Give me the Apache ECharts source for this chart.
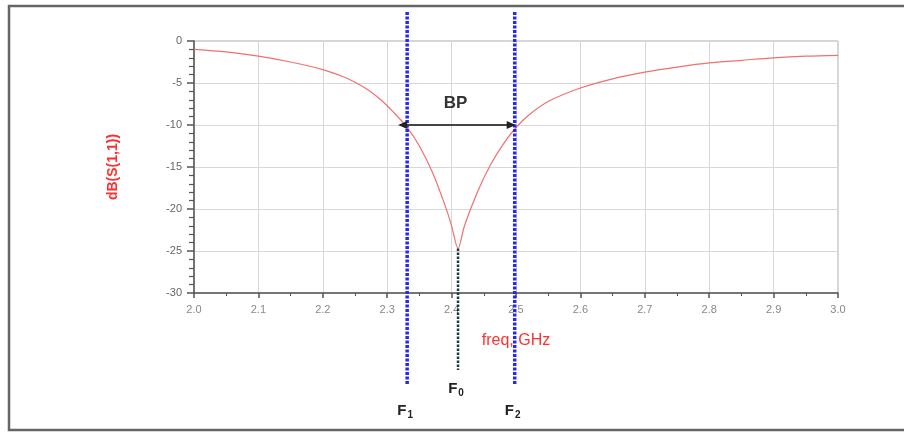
<!DOCTYPE html>
<html><head><meta charset="utf-8">
<script src="https://cdn.jsdelivr.net/npm/echarts@6/dist/echarts.min.js"></script>
<style>html,body{margin:0;padding:0;background:#fff}#c{width:904px;height:432px}</style>
</head><body><div id="c"></div>
<script>
// Frequency (GHz) and dB(S(1,1))
const freq = [2.00, 2.05, 2.10, 2.15, 2.20, 2.23, 2.25, 2.27, 2.29, 2.31, 2.33, 2.35, 2.37, 2.39, 2.40, 2.41, 2.42, 2.44, 2.46, 2.48, 2.50, 2.52, 2.55, 2.60, 2.65, 2.70, 2.75, 2.80, 2.85, 2.90, 2.95, 3.00];
const s11  = [-1.0, -1.3, -1.8, -2.5, -3.4, -4.2, -4.9, -5.8, -7.0, -8.5, -10.2, -12.5, -15.6, -19.6, -22.0, -24.7, -22.0, -18.0, -14.8, -12.3, -10.3, -8.8, -7.2, -5.6, -4.5, -3.7, -3.1, -2.6, -2.3, -2.0, -1.8, -1.7];
const xTicks = ['2.0','2.1','2.2','2.3','2.4','2.5','2.6','2.7','2.8','2.9','3.0'];
const yTicks = [0, -5, -10, -15, -20, -25, -30];
// Markers
const markerFreq = {F1: 2.331, F0: 2.41, F2: 2.498};
const markerLevel = -10;
const minLevel = -24.7;

const chart = echarts.init(document.getElementById('c'));
const font = 'Liberation Sans, Arial, sans-serif';
chart.setOption({
  animation: false,
  grid: {left: 194, top: 41, right: 66, bottom: 139, show: true, borderColor: '#aaa', borderWidth: 1, backgroundColor: 'transparent'},
  xAxis: {
    type: 'value', min: 2.0, max: 3.0, interval: 0.1,
    name: 'freq, GHz', nameLocation: 'middle', nameGap: 40,
    nameTextStyle: {color: '#ff3030', fontSize: 16, fontFamily: font},
    axisLine: {show: true, onZero: false, lineStyle: {color: '#555', width: 1.5}},
    axisTick: {show: true, length: 5, lineStyle: {color: '#555', width: 1.5}},
    minorTick: {show: true, splitNumber: 2, length: 3, lineStyle: {color: '#555'}},
    axisLabel: {color: '#888', fontSize: 11, fontFamily: font, margin: 11,
      formatter: v => xTicks[Math.round((v - 2.0) * 10)]},
    splitLine: {show: true, lineStyle: {color: '#d8d8d8'}}
  },
  yAxis: {
    type: 'value', min: -30, max: 0, interval: 5,
    name: 'dB(S(1,1))', nameLocation: 'middle', nameGap: 74, nameRotate: 90,
    nameTextStyle: {color: '#ff3030', fontSize: 14, fontWeight: 'bold', fontFamily: font},
    axisLine: {show: true, onZero: false, lineStyle: {color: '#555', width: 1.5}},
    axisTick: {show: true, length: 7, lineStyle: {color: '#555', width: 1.5}},
    minorTick: {show: true, splitNumber: 5, length: 5, lineStyle: {color: '#555', width: 1.2}},
    axisLabel: {color: '#666', fontSize: 11, fontFamily: font, margin: 12,
      formatter: v => String(yTicks[yTicks.indexOf(v)])},
    splitLine: {show: true, lineStyle: {color: '#d8d8d8'}}
  },
  series: [{
    type: 'line', showSymbol: false, smooth: 0.3,
    data: freq.map((f, i) => [f, s11[i]]),
    lineStyle: {color: '#f07070', width: 1.2}
  }]
});

const px = (x, y) => chart.convertToPixel({gridIndex: 0}, [x, y]);
const g = [];
// outer frame
g.push({type: 'rect', shape: {x: 9, y: 6, width: 920, height: 424}, style: {fill: 'none', stroke: '#666', lineWidth: 2.5}, z: 50});
// blue dotted marker lines
['F1', 'F2'].forEach(k => {
  const x = px(markerFreq[k], 0)[0];
  g.push({type: 'line', shape: {x1: x, y1: 12, x2: x, y2: 384},
    style: {stroke: '#2828ee', lineWidth: 3.5, lineDash: [3, 1.5]}, z: 20});
});
// F0 dashed line from minimum down
const p0 = px(markerFreq.F0, minLevel);
g.push({type: 'line', shape: {x1: p0[0], y1: p0[1], x2: p0[0], y2: 370},
  style: {stroke: '#1e3a44', lineWidth: 2.5, lineDash: [2.5, 1.5]}, z: 20});
// BP double arrow
const a = px(markerFreq.F1, markerLevel), b = px(markerFreq.F2, markerLevel);
const ax1 = a[0] - 7, ax2 = b[0];
g.push({type: 'line', shape: {x1: ax1, y1: a[1], x2: ax2, y2: a[1]}, style: {stroke: '#444', lineWidth: 2}, z: 21});
g.push({type: 'polygon', shape: {points: [[ax1 - 2, a[1]], [ax1 + 7, a[1] - 4], [ax1 + 7, a[1] + 4]]}, style: {fill: '#222'}, z: 22});
g.push({type: 'polygon', shape: {points: [[ax2 + 1, a[1]], [ax2 - 8, a[1] - 4], [ax2 - 8, a[1] + 4]]}, style: {fill: '#222'}, z: 22});
g.push({type: 'text', x: (ax1 + ax2) / 2 - 2, y: a[1] - 22, style: {text: 'BP', font: 'bold 17px ' + font, fill: '#333', align: 'center', verticalAlign: 'middle'}, z: 22});
// F labels
const lbl = (k, sub, y) => {
  const x = px(markerFreq[k], 0)[0];
  g.push({type: 'text', x: x - 2, y: y, style: {
    text: '{b|F}{s|' + sub + '}', align: 'center', verticalAlign: 'middle',
    rich: {b: {font: 'bold 15px ' + font, fill: '#222'}, s: {font: 'bold 10px ' + font, fill: '#222', padding: [8, 0, 0, 1]}}
  }, z: 22});
};
lbl('F1', '1', 411);
lbl('F0', '0', 389);
lbl('F2', '2', 411);
chart.setOption({graphic: g});
</script></body></html>
